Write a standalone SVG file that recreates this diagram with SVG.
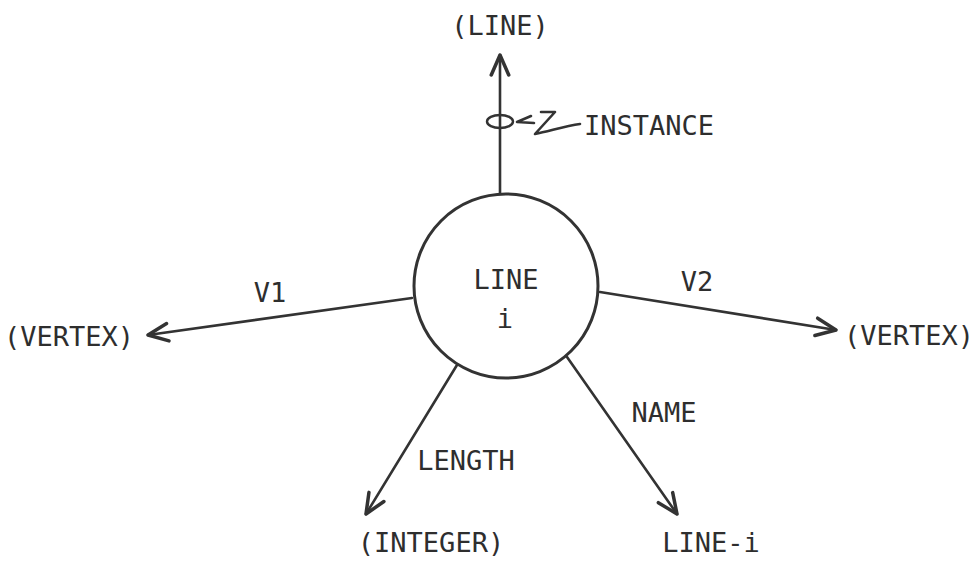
<svg xmlns="http://www.w3.org/2000/svg" width="980" height="562" viewBox="0 0 980 562">
  <style>
    .lbl { font-family: "DejaVu Sans Mono", "Liberation Mono", monospace; font-size: 27px; fill: #2e2e2e; }
    .mid { text-anchor: middle; }
    .edge { fill: none; stroke: #333; stroke-width: 2.6; stroke-linecap: round; stroke-linejoin: round; }
    .node { fill: #fff; stroke: #333; stroke-width: 3; }
  </style>
  <defs>
    <marker id="head" markerUnits="userSpaceOnUse" markerWidth="30" markerHeight="30" viewBox="-20 -12 24 24" refX="0" refY="0" orient="auto">
      <path d="M-16,-7 L0,0 L-16,7" fill="none" stroke="#333" stroke-width="2.8" stroke-linecap="round" stroke-linejoin="round"/>
    </marker>
  </defs>
  <rect width="980" height="562" fill="#fff"/>

  <!-- relations leaving the LINE node -->
  <g id="connectors">
    <line class="edge" x1="500" y1="194" x2="500" y2="55" marker-end="url(#head)"/>
    <line class="edge" x1="412" y1="298" x2="148" y2="335" marker-end="url(#head)"/>
    <line class="edge" x1="600" y1="292" x2="836" y2="330" marker-end="url(#head)"/>
    <line class="edge" x1="457" y1="365" x2="366" y2="514" marker-end="url(#head)"/>
    <line class="edge" x1="567" y1="357" x2="677" y2="514" marker-end="url(#head)"/>
    <!-- instance marker on the upward arc, with a hand-drawn pointer -->
    <ellipse cx="500" cy="121.5" rx="13" ry="6.5" fill="none" stroke="#333" stroke-width="2.4"/>
    <path class="edge" d="M531,116 L517,122 L534,123"/>
    <path class="edge" d="M541,112 L555,112 L535,134 C550,131 565,126 580,124"/>
  </g>

  <g id="line-node">
    <circle class="node" cx="506" cy="286" r="92"/>
    <text class="lbl mid" x="506" y="289">LINE</text>
    <text class="lbl mid" x="505" y="328">i</text>
  </g>

  <g id="line-class">
    <text class="lbl mid" x="500" y="35">(LINE)</text>
  </g>
  <g id="instance-label">
    <text class="lbl" x="584" y="135">INSTANCE</text>
  </g>
  <g id="vertex-left">
    <text class="lbl mid" x="69" y="346">(VERTEX)</text>
  </g>
  <g id="vertex-right">
    <text class="lbl mid" x="909" y="345">(VERTEX)</text>
  </g>
  <g id="integer">
    <text class="lbl mid" x="431" y="552">(INTEGER)</text>
  </g>
  <g id="line-name">
    <text class="lbl mid" x="711" y="552">LINE-i</text>
  </g>

  <g id="edge-labels">
    <text class="lbl mid" x="270" y="302">V1</text>
    <text class="lbl mid" x="697" y="291">V2</text>
    <text class="lbl mid" x="466" y="470">LENGTH</text>
    <text class="lbl mid" x="664" y="422">NAME</text>
  </g>
</svg>
